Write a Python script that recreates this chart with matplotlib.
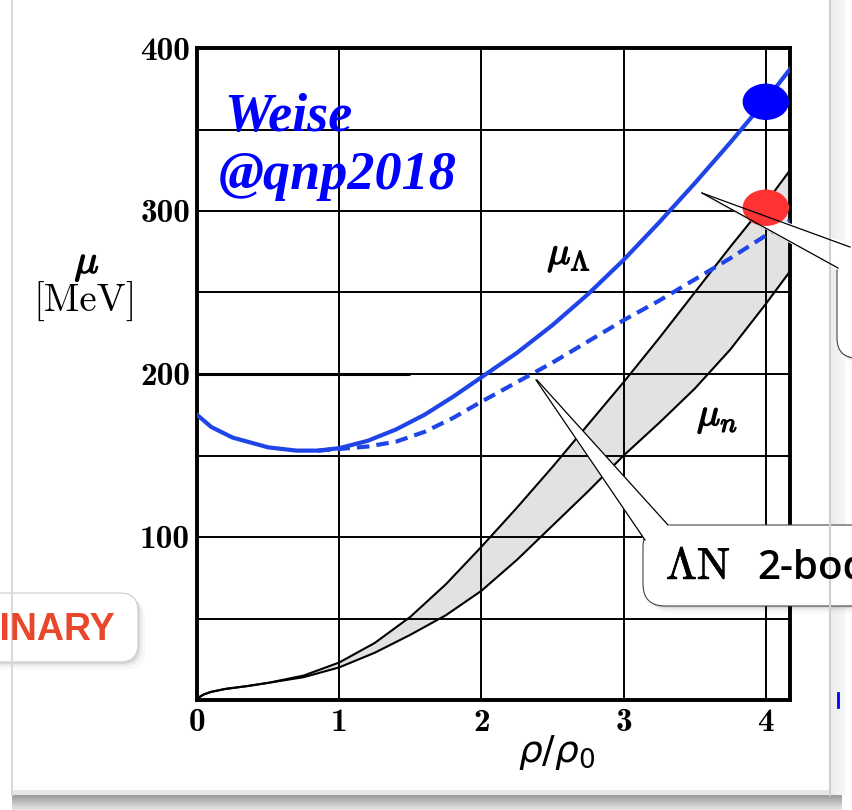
import os
import numpy as np
import matplotlib
matplotlib.use('Agg')
import matplotlib.pyplot as plt
import matplotlib.patheffects as pe
from matplotlib.font_manager import FontProperties
from matplotlib.patches import Ellipse, FancyBboxPatch, Polygon, Rectangle

plt.rcParams['mathtext.fontset'] = 'cm'

# values (rho/rho0 -> MeV)
rho_lam = [0.0, 0.1, 0.25, 0.5, 0.7, 0.85, 1.0, 1.2, 1.4, 1.6, 1.8, 2.0, 2.25, 2.5, 2.75,
           3.0, 3.25, 3.5, 3.75, 4.0, 4.17]
mu_lam = [175, 167.5, 161, 155, 153, 153, 154.5, 159, 166, 175, 186, 198, 213, 230, 249,
          270, 293, 317, 342, 368, 387]

rho_lam_2b = [0.85, 1.0, 1.2, 1.4, 1.6, 1.8, 2.0, 2.25, 2.5, 2.75, 3.0, 3.25, 3.5, 3.75, 4.0, 4.17]
mu_lam_2b = [153, 154, 155.5, 158.5, 164.5, 173, 183, 195, 207, 220, 233, 245, 258, 271, 285, 294]

rho_n = [0.0, 0.02, 0.05, 0.1, 0.2, 0.35, 0.5, 0.75, 1.0, 1.25, 1.5, 1.75, 2.0, 2.25, 2.5, 2.75,
         3.0, 3.25, 3.5, 3.75, 4.0, 4.17]
mu_n_upper = [0, 2, 3.5, 5, 6.8, 8.5, 10.5, 15, 23, 35, 51, 71, 94, 118, 143, 169,
              195, 222, 250, 278, 305, 325]
mu_n_lower = [0, 2, 3.5, 5, 6.8, 8.5, 10.5, 14, 20, 29, 40, 52, 67, 86, 107, 128,
              150, 170, 191, 215, 243, 263]

dot_rho = [4.0, 4.0]
dot_mu = [367, 302]
dot_colors = ['#0000ff', '#ff3333']

x_ticks = [0, 1, 2, 3, 4]
y_grid = [0, 50, 100, 150, 200, 250, 300, 350, 400]
y_labels = ['', '', '100', '', '200', '', '300', '', '400']

blue = '#1f45e8'
ttf = os.path.join(matplotlib.get_data_path(), 'fonts', 'ttf')
tick_font = FontProperties(fname=os.path.join(ttf, 'cmb10.ttf'), size=24)
rm_font = FontProperties(fname=os.path.join(ttf, 'cmr10.ttf'), size=28)

fig = plt.figure(figsize=(8.52, 8.10), dpi=100)
fig.patch.set_facecolor('white')

ax = fig.add_axes([197/852, 1-700/810, (790-197)/852, (700-48)/810])
ax.set_xlim(0, 4.17)
ax.set_ylim(0, 400)

ax.fill_between(rho_n, mu_n_lower, mu_n_upper, color='#e2e2e2', lw=0, zorder=1)
ax.plot(rho_n, mu_n_upper, color='k', lw=1.5, zorder=3)
ax.plot(rho_n, mu_n_lower, color='k', lw=1.5, zorder=3)
ax.plot(rho_lam, mu_lam, color=blue, lw=3, zorder=4)
ax.plot(rho_lam_2b, mu_lam_2b, color=blue, lw=3, dashes=(3, 1.7), zorder=4)

ax.set_xticks(x_ticks)
ax.set_xticklabels([str(v) for v in x_ticks], fontproperties=tick_font)
ax.set_yticks(y_grid)
ax.set_yticklabels(y_labels, fontproperties=tick_font)
ax.tick_params(length=0)
ax.tick_params(axis='x', pad=6)
ax.tick_params(axis='y', pad=5)
ax.grid(True, color='k', lw=1.4)
ax.set_axisbelow(False)
for s in ax.spines.values():
    s.set_linewidth(2.8)
ax.hlines(200, 0, 1.5, color='k', lw=2.2, zorder=2.6)

bold = [pe.withStroke(linewidth=1.0, foreground='k')]
ax.text(2.615, 273, r'$\mu_\Lambda$', size=28, ha='center', va='center', path_effects=bold)
ax.text(3.66, 174, r'$\mu_n$', size=28, ha='center', va='center', path_effects=bold)

# overlay in pixel coordinates for the slide decorations
ov = fig.add_axes([0, 0, 1, 1], zorder=5)
ov.set_xlim(0, 852)
ov.set_ylim(810, 0)
ov.axis('off')

# slide frame
ov.plot([12, 12], [0, 795], color='#dadada', lw=1.5)
ov.plot([830, 830], [0, 795], color='#d0d0d0', lw=1.5)
for i, g in enumerate(np.linspace(0.93, 0.97, 6)):
    ov.add_patch(Rectangle((831 + i*2.5, 0), 2.5, 795, color=str(g), lw=0))
for i, g in enumerate(np.linspace(0.62, 0.9, 8)):
    ov.add_patch(Rectangle((12, 795 + i*2), 830, 2, color=str(g), lw=0))
ov.add_patch(Rectangle((12, 790), 818, 5, color='#e6e6e6', lw=0))


def shadow(make):
    for off, a in [(2, 0.07), (4, 0.05), (7, 0.03)]:
        p = make(off)
        p.set_facecolor('k')
        p.set_alpha(a)
        p.set_edgecolor('none')
        ov.add_patch(p)


# PRELIMINARY tag
shadow(lambda o: FancyBboxPatch((-60 + o, 593 + o), 198, 69,
                                boxstyle='round,pad=0,rounding_size=18'))
ov.add_patch(FancyBboxPatch((-60, 593), 198, 69, boxstyle='round,pad=0,rounding_size=18',
                            fc='white', ec='#cccccc', lw=0.8))
ov.text(115, 630, 'PRELIMINARY', color='#e8472c', fontfamily='Liberation Sans',
        weight='bold', size=27, ha='right', va='center')

# "Lambda N 2-body" callout
shadow(lambda o: FancyBboxPatch((643 + o, 525 + o), 320, 81,
                                boxstyle='round,pad=0,rounding_size=22'))
shadow(lambda o: Polygon([(536 + o, 380 + o), (645 + o, 540 + o), (668 + o, 525 + o)]))
ov.add_patch(FancyBboxPatch((643, 525), 320, 81, boxstyle='round,pad=0,rounding_size=22',
                            fc='white', ec='#444444', lw=0.8))
ov.add_patch(Polygon([(536, 380), (645, 541), (670, 526)], fc='white', ec='none'))
ov.plot([536, 645], [380, 540], color='k', lw=0.9)
ov.plot([537, 668], [380, 525], color='k', lw=0.9)
ov.text(666, 579, r'$\mathrm{\Lambda N}$', size=32, va='baseline',
        path_effects=[pe.withStroke(linewidth=0.6, foreground='k')])
ov.text(757, 579, '2-body', fontfamily='Open Sans', weight='semibold', size=29, va='baseline')

# right callout
shadow(lambda o: FancyBboxPatch((837 + o, 246 + o), 150, 112,
                                boxstyle='round,pad=0,rounding_size=20'))
shadow(lambda o: Polygon([(702 + o, 193 + o), (852 + o, 246 + o), (838 + o, 268 + o)]))
ov.add_patch(FancyBboxPatch((837, 246), 150, 112, boxstyle='round,pad=0,rounding_size=20',
                            fc='white', ec='#444444', lw=0.8))
ov.add_patch(Polygon([(702, 193), (853, 245), (837, 270)], fc='white', ec='none'))
ov.plot([702, 850], [193, 247], color='k', lw=0.9)
ov.plot([702, 838], [193, 268], color='k', lw=0.9)

# the two marked points
for r, m, c in zip(dot_rho, dot_mu, dot_colors):
    ov.add_patch(Ellipse((r, m), 45/142.25, 35/1.63, color=c, transform=ax.transData))

ov.plot([838, 838], [693, 707], color='#0000ff', lw=2)

ov.text(224, 131, 'Weise', fontfamily='Liberation Serif', style='italic', weight='bold',
        size=39, color='#0000ff', va='baseline')
ov.text(219, 189, '@qnp2018', fontfamily='Liberation Serif', style='italic', weight='bold',
        size=39, color='#0000ff', va='baseline')

# axis labels
ov.text(87, 263, r'$\mu$', size=29, ha='center', va='center', path_effects=bold)
ov.text(85, 302, '[MeV]', fontproperties=rm_font, ha='center', va='center')
ov.text(557, 752, r'$\rho/\rho_0$', size=27, ha='center', va='center',
        math_fontfamily='dejavusans')

fig.savefig('out.png', dpi=100)
